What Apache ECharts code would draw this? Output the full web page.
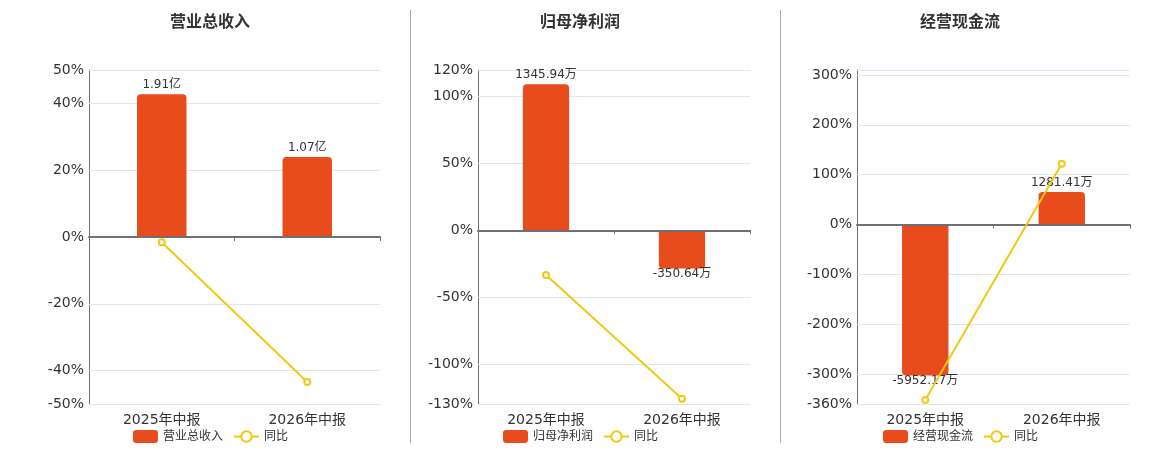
<!DOCTYPE html>
<html>
<head>
<meta charset="utf-8">
<title>中报财务指标</title>
<script src="https://cdn.jsdelivr.net/npm/echarts@6.0.0/dist/echarts.min.js"></script>
<style>
  html, body { margin: 0; padding: 0; background: #fff; }
  #main { width: 1160px; height: 450px; }
</style>
</head>
<body>
<div id="main"></div>
<script>
// 数据
var categories = ['2025年中报', '2026年中报'];
var panelTitles = ['营业总收入', '归母净利润', '经营现金流'];
var units = ['亿', '万', '万'];

var revenue = [1.91, 1.07];            // 亿
var netProfit = [1345.94, -350.64];    // 万
var cashFlow = [-5952.17, 1281.41];    // 万

var revenueYoy = [-1.6, -43.4];        // %
var netProfitYoy = [-33.4, -126];
var cashFlowYoy = [-352, 122];

var revenueTicks = [50, 40, 20, 0, -20, -40, -50];
var netProfitTicks = [120, 100, 50, 0, -50, -100, -130];
var cashFlowTicks = [300, 200, 100, 0, -100, -200, -300, -360];

var fontFamily = "'DejaVu Sans', 'Noto Sans CJK SC', sans-serif";
var barColor = '#e84c1c';
var lineColor = '#f2c811';

// 每个面板：百分比轴范围、柱子换算比例、位置
var panels = [
    { bars: revenue, yoy: revenueYoy, ticks: revenueTicks, min: -50, max: 50, k: 0.0447,
      left: 89, width: 291, center: 210, legendLeft: 133 },
    { bars: netProfit, yoy: netProfitYoy, ticks: netProfitTicks, min: -130, max: 120, k: 12.3,
      left: 478, width: 272, center: 580, legendLeft: 503 },
    { bars: cashFlow, yoy: cashFlowYoy, ticks: cashFlowTicks, min: -360, max: 310, k: 19.65,
      left: 857, width: 273, center: 960, legendLeft: 883 }
];

var myChart = echarts.init(document.getElementById('main'));

var option = {
    animation: false,
    textStyle: { fontFamily: fontFamily },
    title: [], legend: [], grid: [], xAxis: [], yAxis: [], series: [],
    graphic: [
        { type: 'line', shape: { x1: 410.5, y1: 10, x2: 410.5, y2: 443 }, style: { stroke: '#aaa', lineWidth: 1 } },
        { type: 'line', shape: { x1: 780.5, y1: 10, x2: 780.5, y2: 443 }, style: { stroke: '#aaa', lineWidth: 1 } }
    ]
};

panels.forEach(function (p, i) {
    var name = panelTitles[i];
    var unit = units[i];
    var ticks = p.ticks;

    option.title.push({
        text: name,
        left: p.center,
        top: 15,
        padding: 0,
        textAlign: 'center',
        textStyle: { fontSize: 16, fontWeight: 'bold', color: '#333', fontFamily: fontFamily }
    });

    option.legend.push({
        data: [name, '同比'],
        left: p.legendLeft,
        top: 430,
        padding: 0,
        itemWidth: 25,
        itemHeight: 13,
        itemGap: 10,
        textStyle: { fontSize: 12, color: '#333' }
    });

    option.grid.push({ left: p.left, width: p.width, top: 70, height: 334 });

    // 底部类目标签
    option.xAxis.push({
        type: 'category',
        gridIndex: i,
        data: categories,
        position: 'bottom',
        axisLine: { show: false, onZero: false },
        axisTick: { show: false },
        axisLabel: { fontSize: 14, color: '#333', margin: 9 }
    });
    // 零线
    option.xAxis.push({
        type: 'category',
        gridIndex: i,
        data: categories,
        position: 'bottom',
        z: 3,
        axisLine: { show: true, onZero: true, onZeroAxisIndex: i * 2, lineStyle: { color: '#6e7079', width: 2 } },
        axisTick: { show: true, length: 4, lineStyle: { color: '#6e7079' } },
        axisLabel: { show: false }
    });

    // 同比百分比轴
    option.yAxis.push({
        type: 'value',
        gridIndex: i,
        min: p.min,
        max: p.max,
        interval: 10,
        axisLine: { show: true, lineStyle: { color: '#6e7079', width: 1 } },
        axisTick: { show: false },
        splitLine: { show: false },
        axisLabel: {
            fontSize: 14,
            color: '#333',
            margin: 5,
            formatter: function (v) {
                return ticks.indexOf(Math.round(v)) >= 0 ? Math.round(v) + '%' : '';
            }
        }
    });
    // 柱子用的隐藏轴，零点与百分比轴对齐
    option.yAxis.push({
        type: 'value',
        gridIndex: i,
        show: false,
        min: p.min * p.k,
        max: p.max * p.k,
        splitLine: { show: false }
    });

    // 网格线
    option.series.push({
        type: 'line',
        xAxisIndex: i * 2,
        yAxisIndex: i * 2,
        data: [],
        silent: true,
        markLine: {
            z: 1,
            silent: true,
            symbol: ['none', 'none'],
            label: { show: false },
            lineStyle: { type: 'solid', color: '#e0e6f1', width: 1 },
            data: ticks.concat([p.max]).filter(function (t) { return t !== 0; })
                .map(function (t) { return { yAxis: t }; })
        }
    });

    option.series.push({
        name: name,
        type: 'bar',
        xAxisIndex: i * 2,
        yAxisIndex: i * 2 + 1,
        barWidth: '34%',
        z: 2,
        itemStyle: { color: barColor },
        label: {
            show: true,
            fontSize: 12,
            color: '#333',
            formatter: function (params) { return params.value + unit; }
        },
        data: p.bars.map(function (v) {
            return {
                value: v,
                itemStyle: { borderRadius: v >= 0 ? [4, 4, 0, 0] : [0, 0, 4, 4] },
                label: { position: v >= 0 ? 'top' : 'bottom', distance: v >= 0 ? 3 : -1 }
            };
        })
    });

    option.series.push({
        name: '同比',
        type: 'line',
        xAxisIndex: i * 2,
        yAxisIndex: i * 2,
        z: 4,
        symbol: 'emptyCircle',
        symbolSize: 6,
        lineStyle: { color: lineColor, width: 2 },
        itemStyle: { color: lineColor, borderWidth: 2 },
        data: p.yoy
    });
});

myChart.setOption(option);
window.addEventListener('resize', function () {
    myChart.resize();
});
</script>
</body>
</html>
